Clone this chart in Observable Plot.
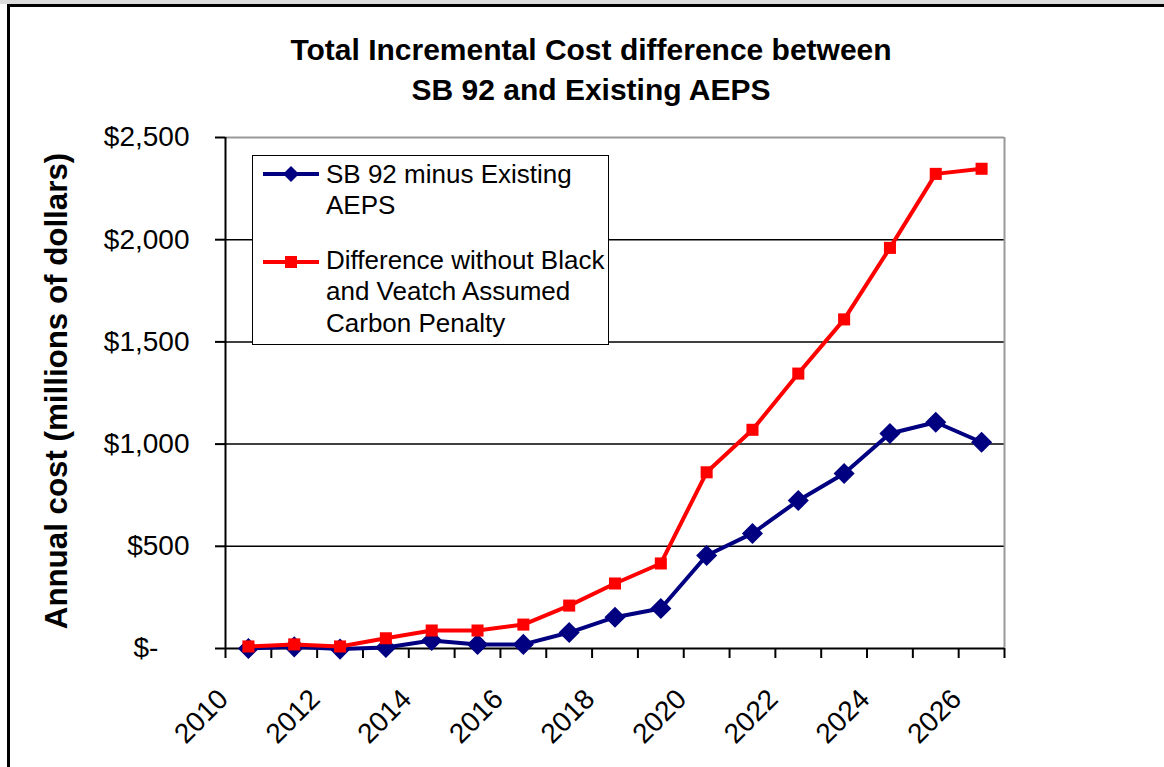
<!DOCTYPE html>
<html>
<head>
<meta charset="utf-8">
<script src="https://cdn.jsdelivr.net/npm/d3@7"></script>
<script src="https://cdn.jsdelivr.net/npm/@observablehq/plot@0.6"></script>
<style>
  html, body { margin: 0; padding: 0; background: #fff; }
  body { width: 1164px; height: 767px; overflow: hidden; position: relative; font-family: "Liberation Sans", Arial, sans-serif; }
  #frameTop { position: absolute; left: 0; top: 0; width: 1164px; height: 4px; background: #dcdcdc; }
  #frame { position: absolute; left: 7px; top: 4px; width: 1200px; height: 800px; border-left: 3px solid #000; border-top: 3px solid #000; box-sizing: border-box; }
  #title { position: absolute; left: 0; top: 30px; width: 1182px; text-align: center; font-weight: bold; font-size: 30px; line-height: 40px; color: #000; }
  #ylabel { position: absolute; left: 57px; top: 391px; transform: translate(-50%, -50%) rotate(-90deg); white-space: nowrap; font-weight: bold; font-size: 31.3px; color: #000; }
  #chart { position: absolute; left: 0; top: 0; }
  #legend { position: absolute; left: 252px; top: 155px; width: 357px; height: 190px; box-sizing: border-box; border: 1.5px solid #000; background: #fff; }
  .item { position: absolute; left: 73px; font-size: 26px; line-height: 31.5px; white-space: nowrap; color: #000; }
  .sw { position: absolute; left: 10px; }
</style>
</head>
<body>
<div id="frameTop"></div>
<div id="frame"></div>
<div id="chart"></div>
<div id="title"></div>
<div id="ylabel"></div>
<div id="legend"></div>
<script>
// ---- data ----
const years = [2010, 2011, 2012, 2013, 2014, 2015, 2016, 2017, 2018, 2019, 2020, 2021, 2022, 2023, 2024, 2025, 2026];
const sb92MinusExisting = [0, 8, -3, 5, 39, 20, 20, 78, 153, 196, 455, 563, 724, 856, 1052, 1107, 1009];
const withoutCarbonPenalty = [10, 20, 10, 50, 88, 88, 117, 210, 318, 416, 862, 1070, 1345, 1610, 1960, 2322, 2347];
const yTicks = [0, 500, 1000, 1500, 2000, 2500];
const xLabelYears = [2010, 2012, 2014, 2016, 2018, 2020, 2022, 2024, 2026];
const seriesNames = ["SB 92 minus Existing\nAEPS", "Difference without Black\nand Veatch Assumed\nCarbon Penalty"];
const titleLines = ["Total Incremental Cost difference between", "SB 92 and Existing AEPS"];
const yLabel = "Annual cost (millions of dollars)";

const blueColor = "#000080";
const redColor = "#FF0000";

const blueData = years.map((y, i) => ({year: y, value: sb92MinusExisting[i]}));
const redData = years.map((y, i) => ({year: y, value: withoutCarbonPenalty[i]}));
const boundaries = [years[0] - 0.5, ...years.map(y => y + 0.5)];
const xMin = boundaries[0], xMax = boundaries[boundaries.length - 1];

const nbsp = "\u00a0";
const fmt = d => d === 0 ? "$-" + nbsp.repeat(4) : "$" + d3.format(",")(d);

const chart = Plot.plot({
  width: 1164,
  height: 767,
  marginTop: 137,
  marginBottom: 119,
  marginLeft: 225,
  marginRight: 160,
  style: {background: "transparent", fontFamily: "'Liberation Sans', Arial, sans-serif", overflow: "visible"},
  x: {domain: [xMin, xMax], axis: null},
  y: {domain: [0, 2500], axis: null},
  marks: [
    Plot.ruleY(yTicks.filter(d => d > 0 && d < 2500), {stroke: "#000", strokeWidth: 1.5}),
    Plot.ruleY([2500], {stroke: "#999", strokeWidth: 2}),
    Plot.ruleX([xMax], {stroke: "#999", strokeWidth: 2}),
    Plot.axisY({ticks: yTicks, tickSize: 10, tickPadding: 26, tickFormat: fmt, fontSize: 28, strokeWidth: 2, label: null, color: "#000"}),
    Plot.axisX({ticks: boundaries, tickSize: 10, tickFormat: () => "", strokeWidth: 2, label: null}),
    Plot.axisX({ticks: xLabelYears, tickSize: 0, tickPadding: 46, tickRotate: -45, dx: -25, tickFormat: d => String(d), fontSize: 28, label: null, color: "#000"}),
    Plot.ruleX([xMin], {stroke: "#000", strokeWidth: 2}),
    Plot.ruleY([0], {stroke: "#000", strokeWidth: 2}),
    Plot.line(blueData, {x: "year", y: "value", stroke: blueColor, strokeWidth: 4}),
    Plot.dot(blueData, {x: "year", y: "value", symbol: "diamond2", r: 9.5, fill: blueColor, stroke: "none"}),
    Plot.line(redData, {x: "year", y: "value", stroke: redColor, strokeWidth: 4}),
    Plot.dot(redData, {x: "year", y: "value", symbol: "square", r: 6.8, fill: redColor, stroke: "none"})
  ]
});
document.getElementById("chart").appendChild(chart);

document.getElementById("title").innerHTML = titleLines.join("<br>");
document.getElementById("ylabel").textContent = yLabel;

// legend
const legend = document.getElementById("legend");
const itemTops = [2.5, 88.5];
const swatchY = [18, 106];
seriesNames.forEach((name, i) => {
  const t = document.createElement("div");
  t.className = "item";
  t.style.top = itemTops[i] + "px";
  t.innerHTML = name.split("\n").join("<br>");
  legend.appendChild(t);
  const color = i === 0 ? blueColor : redColor;
  const marker = i === 0
    ? `<path d="M28,-8 L36,0 L28,8 L20,0 Z" fill="${color}"/>`
    : `<rect x="22" y="-6" width="12" height="12" fill="${color}"/>`;
  const sw = document.createElement("div");
  sw.className = "sw";
  sw.style.top = (swatchY[i] - 10) + "px";
  sw.innerHTML = `<svg width="58" height="20" viewBox="0 -10 58 20" style="display:block"><line x1="0" y1="0" x2="56" y2="0" stroke="${color}" stroke-width="4"/>${marker}</svg>`;
  legend.appendChild(sw);
});
</script>
</body>
</html>
